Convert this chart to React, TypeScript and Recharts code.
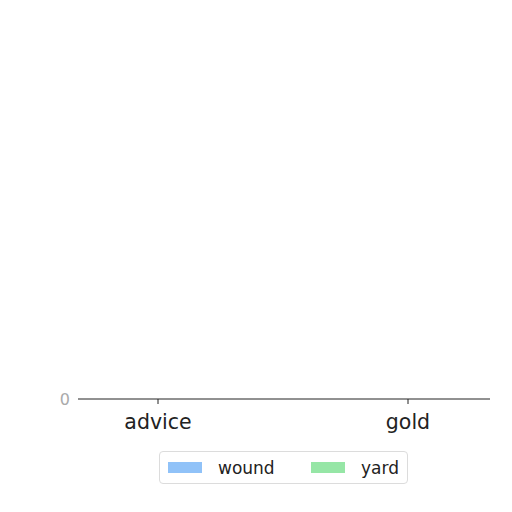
import React from "react";
import { BarChart, Bar, XAxis, YAxis, Legend } from "recharts";

const categories = ["advice", "gold"];
const woundValues = [0, 0];
const yardValues = [0, 0];
const yTicks = [0];

const SERIES = [
  { key: "wound", color: "#90c2f8" },
  { key: "yard", color: "#96e6a6" },
];

const data = categories.map((name, i) => ({
  name,
  wound: woundValues[i],
  yard: yardValues[i],
}));

const FONT = "DejaVu Sans, sans-serif";

function LegendBox() {
  return (
    <div
      style={{
        display: "flex",
        alignItems: "center",
        justifyContent: "space-between",
        boxSizing: "border-box",
        width: 249,
        height: 33,
        padding: "0 8px",
        border: "1px solid #dcdcdc",
        borderRadius: 4,
        background: "#fff",
        fontFamily: FONT,
        fontSize: 17,
        color: "#222",
      }}
    >
      {SERIES.map((s) => (
        <div key={s.key} style={{ display: "flex", alignItems: "center" }}>
          <span
            style={{ display: "inline-block", width: 34, height: 11, background: s.color, marginRight: 16 }}
          />
          <span style={{ marginRight: s.key === "yard" ? 0 : 36 }}>{s.key}</span>
        </div>
      ))}
    </div>
  );
}

export default function App() {
  return (
    <BarChart
      width={496}
      height={496}
      data={data}
      margin={{ top: 20, right: 14, bottom: 38, left: 0 }}
    >
      <XAxis
        dataKey="name"
        padding={{ left: -45, right: -43 }}
        stroke="#222"
        tickSize={5}
        tickMargin={10}
        height={34}
        tick={{ fill: "#222", fontSize: 20.5, fontFamily: FONT }}
      />
      <YAxis
        domain={[0, 1]}
        ticks={yTicks}
        width={70}
        axisLine={false}
        tickLine={false}
        tick={{ fill: "#aaa", fontSize: 16, fontFamily: FONT }}
      />
      <Legend
        verticalAlign="bottom"
        content={() => <LegendBox />}
        wrapperStyle={{ left: 151, width: 249, bottom: 20 }}
      />
      {SERIES.map((s) => (
        <Bar key={s.key} dataKey={s.key} fill={s.color} isAnimationActive={false} />
      ))}
    </BarChart>
  );
}
